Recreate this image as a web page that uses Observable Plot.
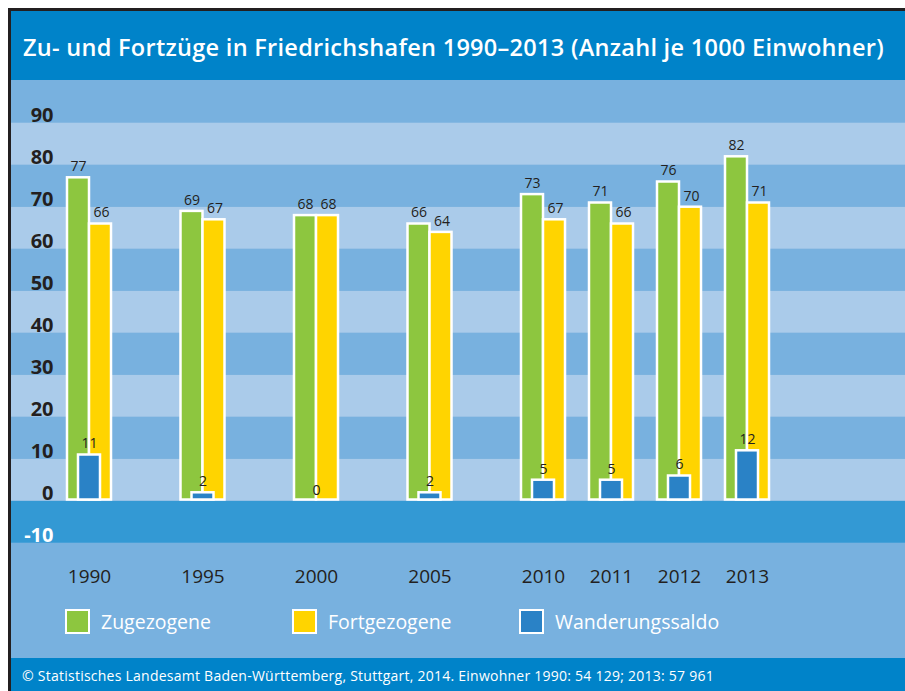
<!DOCTYPE html>
<html>
<head>
<meta charset="utf-8">
<script src="https://cdn.jsdelivr.net/npm/d3@7"></script>
<script src="https://cdn.jsdelivr.net/npm/@observablehq/plot@0.6"></script>
<style>
  html, body { margin: 0; padding: 0; background: #ffffff; overflow: hidden; }
  #frame {
    position: absolute; left: 8px; top: 8px; width: 894px; height: 680px;
    border-left: 3px solid #231f20; border-top: 3px solid #231f20;
    font-family: "Open Sans", sans-serif;
  }
  #title {
    height: 69px; background: #0083c9; color: #fff;
    font-size: 23.5px; font-weight: 600; line-height: 72px;
    padding-left: 12px; white-space: nowrap; overflow: hidden;
  }
  #chart { position: relative; height: 578px; background: #78b1df; }
  #chart svg { display: block; }
  #legend {
    position: absolute; left: 54px; top: 529px; display: flex;
  }
  .item { width: 227px; display: flex; align-items: center; }
  .swatch { width: 21px; height: 21px; border: 2px solid #fff; }
  .item span { color: #fff; font-size: 19.5px; margin-left: 11px; line-height: 25px; }
  #footer {
    height: 33px; background: #0083c9; color: #fff;
    font-size: 14px; line-height: 36px; padding-left: 11px; white-space: nowrap; overflow: hidden;
  }
</style>
</head>
<body>
<div id="frame">
  <div id="title"><span>Zu- und Fortzüge in Friedrichshafen 1990–2013 (Anzahl je 1000 Einwohner)</span></div>
  <div id="chart"><div id="legend"></div></div>
  <div id="footer"><span>© Statistisches Landesamt Baden-Württemberg, Stuttgart, 2014. Einwohner 1990: 54 129; 2013: 57 961</span></div>
</div>
<script>
// ---- data ----
const years = [1990, 1995, 2000, 2005, 2010, 2011, 2012, 2013];
const zugezogene = [77, 69, 68, 66, 73, 71, 76, 82];
const fortgezogene = [66, 67, 68, 64, 67, 66, 70, 71];
const wanderungssaldo = [11, 2, 0, 2, 5, 5, 6, 12];
const yTicks = [-10, 0, 10, 20, 30, 40, 50, 60, 70, 80, 90];
const seriesNames = ["Zugezogene", "Fortgezogene", "Wanderungssaldo"];
const seriesColors = ["#8dc63f", "#ffd400", "#2a82c6"];

// ---- derived tables ----
const rows = years.map((year, i) => ({
  year, zu: zugezogene[i], fort: fortgezogene[i], saldo: wanderungssaldo[i]
}));
const bands = yTicks.slice(0, -1).map((t, i) => ({
  lo: t, hi: yTicks[i + 1],
  fill: t < 0 ? "#3399d4" : ((t / 10) % 2 === 0 ? "#aacbea" : "#78b1df")
}));

const chart = Plot.plot({
  width: 894,
  height: 578,
  marginTop: 0, marginRight: 0, marginBottom: 0, marginLeft: 0,
  style: { fontFamily: "Open Sans, sans-serif", background: "transparent" },
  x: { type: "linear", domain: [1990, 2010, 2013], range: [78, 532, 736], axis: null },
  y: { type: "linear", domain: [0, 90], range: [420.7, 42.7], axis: null },
  marks: [
    Plot.rect(bands, { y1: "lo", y2: "hi", fill: d => d.fill }),
    Plot.rect(rows, { x1: "year", x2: "year", y1: 0, y2: "zu", insetLeft: -22, insetRight: 0, insetBottom: 1.2,
      fill: seriesColors[0], stroke: "#fff", strokeWidth: 2.5 }),
    Plot.rect(rows, { x1: "year", x2: "year", y1: 0, y2: "fort", insetLeft: 0, insetRight: -22, insetBottom: 1.2,
      fill: seriesColors[1], stroke: "#fff", strokeWidth: 2.5 }),
    Plot.rect(rows.filter(d => d.saldo > 0), { x1: "year", x2: "year", y1: 0, y2: "saldo", insetLeft: -11, insetRight: -11, insetBottom: 1.2,
      fill: seriesColors[2], stroke: "#fff", strokeWidth: 2.5 }),
    Plot.text(rows, { x: "year", y: "zu", text: d => String(d.zu), dx: -11, dy: -11, fontSize: 14, fill: "#231f20" }),
    Plot.text(rows, { x: "year", y: "fort", text: d => String(d.fort), dx: 12, dy: -11, fontSize: 14, fill: "#231f20" }),
    Plot.text(rows, { x: "year", y: "saldo", text: d => String(d.saldo), dx: 0, dy: -11, fontSize: 14, fill: "#231f20" }),
    Plot.text(yTicks.filter(t => t >= 0), { y: d => d, text: d => String(d), frameAnchor: "left", dx: 42, dy: -7.5,
      textAnchor: "end", fontSize: 20, fontWeight: "bold", fill: "#231f20" }),
    Plot.text(yTicks.filter(t => t < 0), { y: d => d, text: d => String(d), frameAnchor: "left", dx: 42, dy: -7.5,
      textAnchor: "end", fontSize: 20, fontWeight: "bold", fill: "#ffffff" }),
    Plot.text(years, { x: d => d, text: d => String(d), frameAnchor: "bottom", dy: -76, fontSize: 19, fill: "#231f20" })
  ]
});
document.getElementById("chart").prepend(chart);

// legend
const legend = document.getElementById("legend");
seriesNames.forEach((name, i) => {
  const item = document.createElement("div");
  item.className = "item";
  const sw = document.createElement("div");
  sw.className = "swatch";
  sw.style.background = seriesColors[i];
  const label = document.createElement("span");
  label.textContent = name;
  item.append(sw, label);
  legend.append(item);
});

// fit title / footer widths
function fit(sel, target) {
  const span = document.querySelector(sel);
  const w = span.getBoundingClientRect().width;
  const n = span.textContent.length;
  span.style.letterSpacing = ((target - w) / n) + "px";
}
fit("#title span", 861);
fit("#footer span", 692);
</script>
</body>
</html>
